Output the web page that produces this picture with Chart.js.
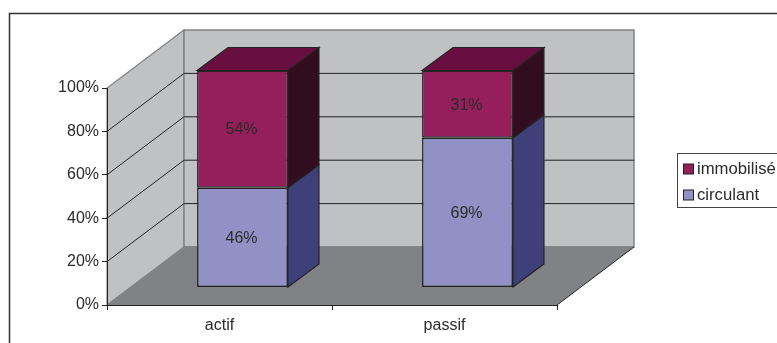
<!DOCTYPE html>
<html>
<head>
<meta charset="utf-8">
<title>actif / passif</title>
<script src="https://cdn.jsdelivr.net/npm/chart.js@4"></script>
<style>
    html, body { margin: 0; padding: 0; background: #fff; overflow: hidden; }
    #box { position: relative; width: 777px; height: 343px; }
</style>
</head>
<body>
<div id="box"><canvas id="bilan"></canvas></div>
<script>
// Valeurs du bilan, en pourcentage
const categories = ['actif', 'passif'];
const circulant = [46, 69];
const immobilise = [54, 31];

const FONT = '"Liberation Sans", Arial, sans-serif';
const TEXT_COLOR = '#2b2b2b';
const LINE_COLOR = '#232323';

// Perspective: decalage du fond du graphique et des barres par rapport au plan avant
const WALL_DEPTH = { x: 77, y: -58 };
const BAR_SHIFT = { x: 23, y: -17.5 };
const BAR_DEPTH = { x: 31, y: -23 };

// Teintes des faces laterales et superieures de chaque serie
const SHADES = [
    { front: '#9191c5', side: '#3f4079', top: '#3f4079' },
    { front: '#951f5c', side: '#320d1f', top: '#690f3f' }
];

function polygon(ctx, pts, fill, stroke, width) {
    ctx.beginPath();
    pts.forEach((p, i) => i ? ctx.lineTo(p[0], p[1]) : ctx.moveTo(p[0], p[1]));
    ctx.closePath();
    if (fill) { ctx.fillStyle = fill; ctx.fill(); }
    if (stroke) { ctx.strokeStyle = stroke; ctx.lineWidth = width; ctx.stroke(); }
}

// Cadre, murs, sol et lignes de grille
const decor3d = {
    id: 'decor3d',
    beforeDraw(chart) {
        const { ctx, chartArea: a, scales } = chart;
        const dx = WALL_DEPTH.x, dy = WALL_DEPTH.y;
        ctx.save();

        ctx.strokeStyle = '#333';
        ctx.lineWidth = 1.5;
        ctx.strokeRect(9.5, 13.5, 900, 500);

        polygon(ctx, [[a.left, a.bottom], [a.left + dx, a.bottom + dy], [a.left + dx, a.top + dy], [a.left, a.top]], '#c0c1c3', '#808285', 1.2);
        polygon(ctx, [[a.left + dx, a.top + dy], [a.right + dx, a.top + dy], [a.right + dx, a.bottom + dy], [a.left + dx, a.bottom + dy]], '#c0c1c3', '#808285', 1.5);
        polygon(ctx, [[a.left, a.bottom], [a.right, a.bottom], [a.right + dx, a.bottom + dy], [a.left + dx, a.bottom + dy]], '#808285', null);

        ctx.strokeStyle = '#808285';
        ctx.lineWidth = 1.5;
        ctx.beginPath();
        ctx.moveTo(a.left + dx, a.bottom + dy);
        ctx.lineTo(a.right + dx, a.bottom + dy);
        ctx.stroke();

        ctx.strokeStyle = LINE_COLOR;
        ctx.lineWidth = 1;
        ctx.beginPath();
        ctx.moveTo(a.right, a.bottom);
        ctx.lineTo(a.right + dx, a.bottom + dy);
        ctx.stroke();

        scales.y.ticks.forEach(t => {
            if (t.value <= 0 || t.value >= 100) return;
            const y = scales.y.getPixelForValue(t.value);
            ctx.beginPath();
            ctx.moveTo(a.left, y);
            ctx.lineTo(a.left + dx, y + dy);
            ctx.lineTo(a.right + dx, y + dy);
            ctx.stroke();
        });
        ctx.restore();
    },
    beforeDatasetsDraw(chart) {
        const ctx = chart.ctx;
        ctx.save();
        ctx.translate(BAR_SHIFT.x, BAR_SHIFT.y);

        // Faces de cote et du dessus, derriere les faces avant dessinees par Chart.js
        const last = chart.data.datasets.length - 1;
        chart.data.datasets.forEach((ds, d) => {
            chart.getDatasetMeta(d).data.forEach(bar => {
                const r = bar.x + bar.width / 2, l = bar.x - bar.width / 2;
                const dx = BAR_DEPTH.x, dy = BAR_DEPTH.y;
                polygon(ctx, [[r, bar.y], [r + dx, bar.y + dy], [r + dx, bar.base + dy], [r, bar.base]], SHADES[d].side, LINE_COLOR, 1.2);
                if (d === last) {
                    polygon(ctx, [[l, bar.y], [l + dx, bar.y + dy], [r + dx, bar.y + dy], [r, bar.y]], SHADES[d].top, LINE_COLOR, 1.2);
                }
            });
        });
    },
    afterDatasetsDraw(chart) {
        const ctx = chart.ctx;
        ctx.fillStyle = TEXT_COLOR;
        ctx.font = '16px ' + FONT;
        ctx.textAlign = 'center';
        ctx.textBaseline = 'middle';
        chart.data.datasets.forEach((ds, d) => {
            chart.getDatasetMeta(d).data.forEach((bar, i) => {
                ctx.fillText(ds.data[i] + '%', bar.x - 1, (bar.y + bar.base) / 2 + 1);
            });
        });
        ctx.restore();
    },
    afterDraw(chart) {
        // Legende: derniere serie en premier
        const ctx = chart.ctx;
        const items = chart.data.datasets.slice().reverse();
        ctx.save();
        ctx.strokeStyle = '#444';
        ctx.lineWidth = 1;
        ctx.strokeRect(677.5, 153.5, 140, 54);
        ctx.font = '16.7px ' + FONT;
        ctx.textBaseline = 'middle';
        items.forEach((ds, i) => {
            const y = 169 + i * 26;
            ctx.fillStyle = ds.backgroundColor;
            ctx.fillRect(683.5, y - 5, 10, 10);
            ctx.strokeStyle = LINE_COLOR;
            ctx.lineWidth = 1;
            ctx.strokeRect(683.5, y - 5, 10, 10);
            ctx.fillStyle = TEXT_COLOR;
            ctx.fillText(ds.label, 697, y);
        });
        ctx.restore();
    }
};

function barDataset(label, data, shade) {
    return {
        label: label,
        data: data,
        backgroundColor: shade.front,
        borderColor: LINE_COLOR,
        borderWidth: 1.5,
        borderSkipped: false,
        clip: false,
        barPercentage: 0.404,
        categoryPercentage: 1
    };
}

new Chart(document.getElementById('bilan').getContext('2d'), {
    type: 'bar',
    data: {
        labels: categories,
        datasets: [
            barDataset('circulant', circulant, SHADES[0]),
            barDataset('immobilisé', immobilise, SHADES[1])
        ]
    },
    plugins: [decor3d],
    options: {
        responsive: true,
        maintainAspectRatio: false,
        animation: false,
        layout: { padding: { top: 88, right: 220, left: 0, bottom: 0 } },
        plugins: { legend: { display: false }, tooltip: { enabled: false } },
        scales: {
            x: {
                stacked: true,
                afterFit(scale) { scale.height = 38; },
                grid: { drawOnChartArea: false, offset: true, tickLength: 5, color: LINE_COLOR },
                border: { color: LINE_COLOR, width: 1 },
                ticks: { color: TEXT_COLOR, padding: 6, maxRotation: 0, font: { family: FONT, size: 16 } }
            },
            y: {
                stacked: true,
                min: 0,
                max: 100,
                afterFit(scale) { scale.width = 107; },
                grid: { drawOnChartArea: false, tickLength: 5, color: LINE_COLOR },
                border: { color: LINE_COLOR, width: 1 },
                ticks: {
                    stepSize: 20,
                    color: TEXT_COLOR,
                    padding: 3,
                    font: { family: FONT, size: 16 },
                    callback: v => v + '%'
                }
            }
        }
    }
});
</script>
</body>
</html>
